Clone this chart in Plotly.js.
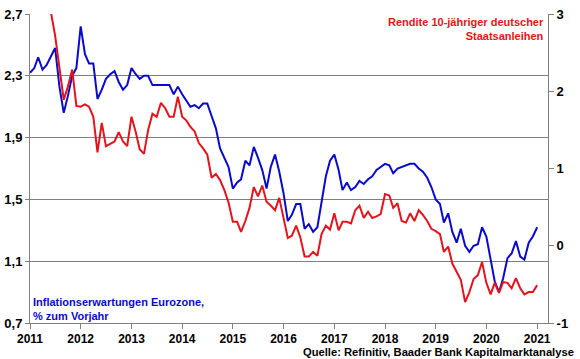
<!DOCTYPE html>
<html>
<head>
<meta charset="utf-8">
<script src="https://cdn.plot.ly/plotly-3.0.1.min.js"></script>
<style>html,body{margin:0;padding:0;background:#fff;}#chart{width:580px;height:359px;}</style>
</head>
<body>
<div id="chart"></div>
<script>
// Monthly observations, Jan 2011 .. Jan 2021
const startYear = 2011;
const inflationExpectations = [
  2.32, 2.35, 2.42, 2.34, 2.37, 2.43, 2.48, 2.23, 2.06, 2.17, 2.30, 2.35,
  2.62, 2.44, 2.38, 2.38, 2.15, 2.21, 2.28, 2.31, 2.33, 2.26, 2.21, 2.24,
  2.35, 2.31, 2.28, 2.30, 2.30, 2.24, 2.24, 2.24, 2.24, 2.24, 2.18, 2.23,
  2.18, 2.14, 2.10, 2.11, 2.09, 2.12, 2.12, 2.04, 1.96, 1.83, 1.77, 1.71,
  1.57, 1.61, 1.63, 1.75, 1.72, 1.84, 1.77, 1.69, 1.57, 1.71, 1.79, 1.68,
  1.54, 1.36, 1.40, 1.47, 1.47, 1.31, 1.34, 1.29, 1.32, 1.48, 1.65, 1.75,
  1.79, 1.69, 1.56, 1.61, 1.56, 1.58, 1.62, 1.60, 1.63, 1.65, 1.69, 1.71,
  1.73, 1.72, 1.67, 1.70, 1.71, 1.72, 1.73, 1.73, 1.70, 1.68, 1.64, 1.58,
  1.50, 1.47, 1.35, 1.41, 1.29, 1.22, 1.31, 1.20, 1.16, 1.20, 1.21, 1.32,
  1.26, 1.11, 0.97, 0.90, 0.99, 1.12, 1.15, 1.23, 1.13, 1.11, 1.22, 1.26,
  1.32
];
const bundYield = [
  3.20, 3.25, 3.30, 3.35, 3.15, 3.02, 2.72, 2.33, 1.89, 2.06, 2.28, 1.81,
  1.80, 1.83, 1.80, 1.67, 1.21, 1.59, 1.29, 1.32, 1.35, 1.47, 1.35, 1.29,
  1.67, 1.47, 1.25, 1.19, 1.50, 1.71, 1.67, 1.85, 1.78, 1.67, 1.67, 1.93,
  1.67, 1.62, 1.54, 1.48, 1.33, 1.26, 1.18, 0.88, 0.93, 0.85, 0.72, 0.56,
  0.31, 0.31, 0.18, 0.32, 0.49, 0.76, 0.64, 0.78, 0.57, 0.52, 0.46, 0.62,
  0.37, 0.10, 0.13, 0.26, 0.11, -0.14, -0.14, -0.08, -0.13, 0.15, 0.26, 0.21,
  0.42, 0.20, 0.31, 0.31, 0.29, 0.46, 0.52, 0.36, 0.44, 0.36, 0.38, 0.41,
  0.67, 0.65, 0.49, 0.55, 0.32, 0.30, 0.42, 0.32, 0.46, 0.40, 0.32, 0.22,
  0.19, 0.15, -0.08, -0.01, -0.23, -0.34, -0.44, -0.73, -0.60, -0.43, -0.38, -0.21,
  -0.48, -0.63, -0.48, -0.61, -0.47, -0.48, -0.55, -0.42, -0.55, -0.63, -0.60, -0.60,
  -0.51
];
const leftTickVals = [0.7, 1.1, 1.5, 1.9, 2.3, 2.7];
const leftTickText = ["0,7", "1,1", "1,5", "1,9", "2,3", "2,7"];
const rightTickVals = [-1, 0, 1, 2, 3];
const rightTickText = ["-1", "0", "1", "2", "3"];
const labelInflation = "Inflationserwartungen Eurozone,<br>% zum Vorjahr";
const labelYield = "Rendite 10-jähriger deutscher<br>Staatsanleihen";
const sourceText = "Quelle: Refinitiv, Baader Bank Kapitalmarktanalyse";

function monthDates(n) {
  const out = [];
  for (let i = 0; i < n; i++) {
    const y = startYear + Math.floor(i / 12);
    const m = (i % 12) + 1;
    out.push(y + "-" + String(m).padStart(2, "0") + "-01");
  }
  return out;
}
const dates = monthDates(inflationExpectations.length);

const BLUE = "#0a0acc";
const RED = "#e3141c";
const FONT = "Liberation Sans, Arial, sans-serif";

const traces = [
  {x: dates, y: inflationExpectations, type: "scatter", mode: "lines",
   line: {color: BLUE, width: 2}, yaxis: "y", hoverinfo: "skip"},
  {x: dates, y: bundYield, type: "scatter", mode: "lines",
   line: {color: RED, width: 2}, yaxis: "y2", hoverinfo: "skip"}
];

const layout = {
  width: 580, height: 359,
  margin: {l: 30, r: 32, t: 14, b: 36, pad: 0},
  paper_bgcolor: "#ffffff", plot_bgcolor: "#ffffff",
  showlegend: false,
  font: {family: FONT, size: 12, color: "#000", weight: "bold"},
  xaxis: {
    type: "date", range: ["2011-01-01", "2021-03-20"],
    tick0: "2011-01-01", dtick: "M12", tickformat: "%Y",
    showgrid: false, zeroline: false,
    showline: true, linecolor: "#808080", linewidth: 1,
    ticks: "outside", ticklen: 5, tickcolor: "#808080",
    tickfont: {family: FONT, size: 12, color: "#000", weight: "bold"}
  },
  yaxis: {
    range: [0.7, 2.7], tickvals: leftTickVals, ticktext: leftTickText,
    showgrid: true, gridcolor: "#7f7f7f", gridwidth: 1, zeroline: false,
    showline: true, linecolor: "#808080", linewidth: 1,
    ticks: "outside", ticklen: 4, tickcolor: "#808080",
    tickfont: {family: FONT, size: 13, color: "#000", weight: "bold"}
  },
  yaxis2: {
    overlaying: "y", side: "right",
    range: [-1, 3], tickvals: rightTickVals, ticktext: rightTickText,
    showgrid: false, zeroline: false,
    showline: true, linecolor: "#808080", linewidth: 1,
    ticks: "outside", ticklen: 5, tickcolor: "#808080",
    tickfont: {family: FONT, size: 13, color: "#000", weight: "bold"}
  },
  annotations: [
    {text: labelYield, xref: "paper", yref: "paper", x: 0.997, y: 0.951,
     xanchor: "right", yanchor: "middle", align: "right", showarrow: false,
     font: {family: FONT, size: 11, color: RED, weight: "bold"}},
    {text: labelInflation, xref: "paper", yref: "paper", x: 0.002, y: 0.045,
     xanchor: "left", yanchor: "middle", align: "left", showarrow: false,
     font: {family: FONT, size: 11, color: BLUE, weight: "bold"}},
    {text: sourceText, xref: "paper", yref: "paper", x: 1.054, y: -0.094,
     xanchor: "right", yanchor: "middle", align: "right", showarrow: false,
     font: {family: FONT, size: 11.2, color: "#000", weight: "bold"}}
  ]
};

Plotly.newPlot("chart", traces, layout, {staticPlot: true, displayModeBar: false});
</script>
</body>
</html>
